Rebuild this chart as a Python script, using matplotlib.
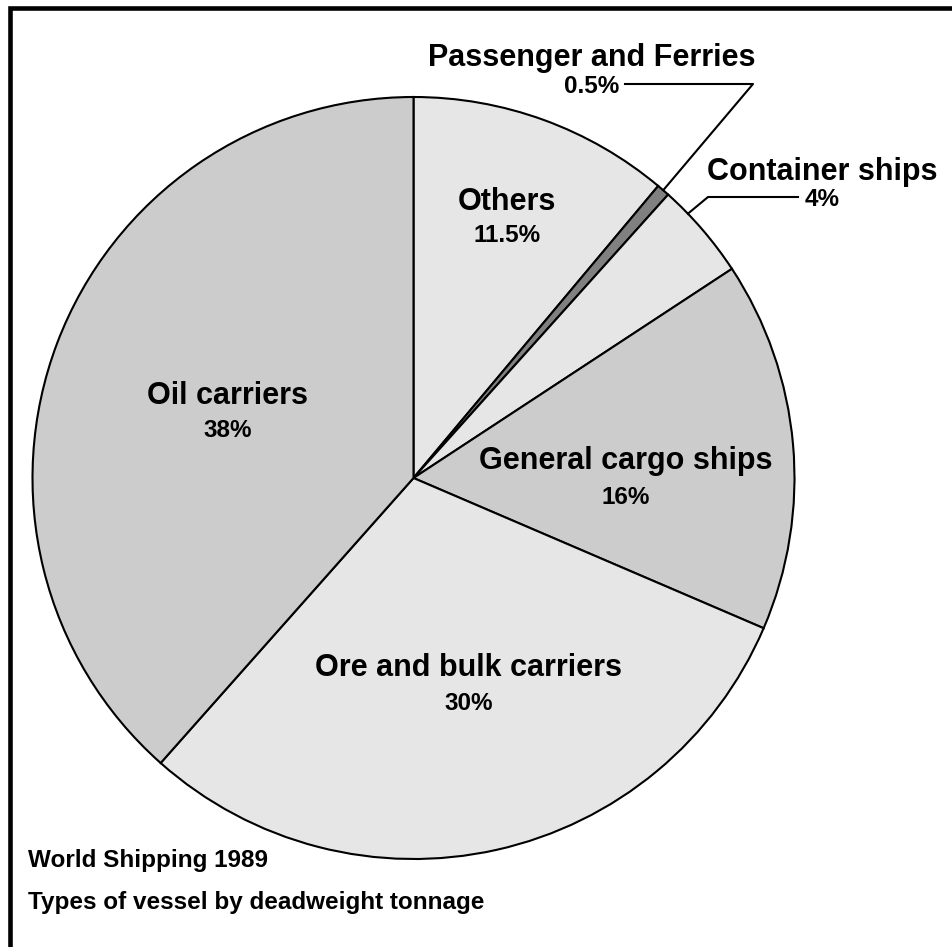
import numpy as np
import matplotlib.pyplot as plt
from matplotlib.lines import Line2D

plt.rcParams["font.family"] = ["Liberation Sans", "DejaVu Sans"]
plt.rcParams["font.weight"] = "bold"

labels = ["Others", "Passenger and Ferries", "Container ships",
          "General cargo ships", "Ore and bulk carriers", "Oil carriers"]
# slice sizes as drawn in the picture (printed labels are rounded)
shares = [11.1, 0.55, 4.1, 15.7, 30.1, 38.45]
pct_text = ["11.5%", "0.5%", "4%", "16%", "30%", "38%"]
colors = ["#e6e6e6", "#808080", "#e6e6e6", "#cccccc", "#e6e6e6", "#cccccc"]

W, H = 953, 947
fig = plt.figure(figsize=(W / 100, H / 100), dpi=100)
ax = fig.add_axes([0, 0, 1, 1])

cx, cy, r = 413.5, H - 478, 381
wedges, _ = ax.pie(shares, colors=colors, startangle=90, counterclock=False,
                   center=(cx, cy), radius=r,
                   wedgeprops=dict(edgecolor="black", linewidth=1.5))
ax.set_xlim(0, W)
ax.set_ylim(0, H)
ax.set_aspect("equal")
ax.axis("off")

# label positions in image pixels (x, y of name line, y of pct line)
label_pos = {
    "Others": (507, 202, 235),
    "Passenger and Ferries": (592, 58, 86),
    "Container ships": (822, 172, 199),
    "General cargo ships": (626, 461, 497),
    "Ore and bulk carriers": (469, 668, 703),
    "Oil carriers": (228, 396, 430),
}
for name, pct in zip(labels, pct_text):
    x, y1, y2 = label_pos[name]
    ax.text(x, H - y1, name, ha="center", va="center", fontsize=22, fontweight="bold")
    ax.text(x, H - y2, pct, ha="center", va="center", fontsize=17.5, fontweight="bold")


def edge_point(w, frac):
    ang = np.deg2rad(w.theta1 + frac * (w.theta2 - w.theta1))
    return cx + r * np.cos(ang), cy + r * np.sin(ang)


# leader lines
px, py = edge_point(wedges[1], 0.5)
ax.plot([px, 753, 625], [py, H - 84, H - 84], color="black", lw=1.5)
qx, qy = edge_point(wedges[2], 0.72)
ax.plot([qx, 708, 798], [qy, H - 197, H - 197], color="black", lw=1.5)

ax.text(28, H - 861, "World Shipping 1989", ha="left", va="center", fontsize=17.5, fontweight="bold")
ax.text(28, H - 903, "Types of vessel by deadweight tonnage", ha="left", va="center",
        fontsize=17.5, fontweight="bold")

# frame on left and top
fig.add_artist(Line2D([9.7 / W, 9.7 / W, 1], [0, 1 - 8.5 / H, 1 - 8.5 / H],
                      transform=fig.transFigure, color="black", lw=3.3,
                      solid_joinstyle="miter"))

fig.savefig("out.png", dpi=100)
